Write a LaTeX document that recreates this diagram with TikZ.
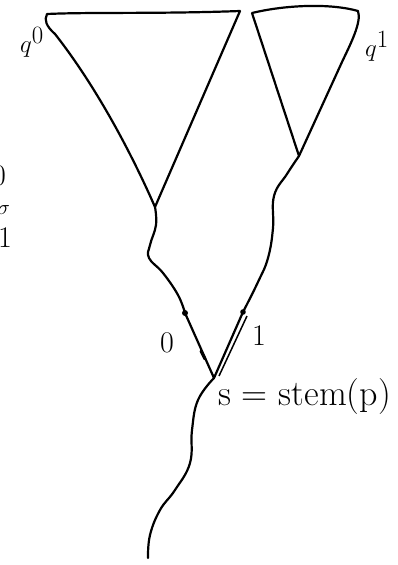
\documentclass[tikz,border=0pt]{standalone}
\usetikzlibrary{positioning}
\tikzset{stroke/.style={line width=2.2pt, line cap=round, line join=round},
  lbl/.style={inner sep=0pt, font=\fontsize{30}{34}\selectfont}}
\begin{document}
\begin{tikzpicture}[x=1pt, y=-1pt]
  \useasboundingbox (0,0) rectangle (397,565);
  % the two cones
  \coordinate (tlA) at (47,14);  \coordinate (trA) at (240,11);  \coordinate (apexA) at (155,207);
  \coordinate (tlB) at (252,13); \coordinate (trB) at (358,11);  \coordinate (apexB) at (299,156);
  \coordinate (fork) at (214,378); \coordinate (dotA) at (185,313); \coordinate (dotB) at (243,312);
  \coordinate (root) at (148,558);
  \draw[stroke] (trA) .. controls (160,14) and (90,12) .. (tlA) .. controls (44,20) and (46,26) .. (55,34)
    .. controls (95,85) and (130,150) .. (apexA) -- (trA);
  \draw[stroke] (tlB) .. controls (285,5) and (330,3) .. (trB) .. controls (362,22) and (350,45) .. (342,62)
    -- (apexB) -- (tlB);
  % stems
  \draw[stroke] plot[smooth, tension=0.7] coordinates {(apexA) (156,225) (150,245) (149,258) (163,273) (178,295) (dotA)};
  \draw[stroke] plot[smooth, tension=0.7] coordinates {(apexB) (287,174) (274,196) (273,228) (268,258) (258,282) (dotB)};
  \draw[stroke] (dotA) -- (fork);
  \draw[stroke] (dotB) -- (fork);
  \draw[line width=1.5pt] (247,316) -- (219,376);
  \draw[stroke] plot[smooth, tension=0.7] coordinates {(fork) (198,400) (192,430) (190,463) (175,490) (160,510) (150,535) (root)};
  \fill (dotA) circle (3pt);  \fill (dotB) circle (2.8pt);
  \draw[line width=3pt, line cap=round] (201,351) -- (205,359);
  % labels
  \node[lbl, anchor=south east, font=\fontsize{36}{40}\selectfont] (q0) at (44,58) {$q^0$};
  \node[lbl, anchor=south west, font=\fontsize{36}{40}\selectfont] (q1) at (365,62) {$q^1$};
  \node[lbl] (zero) at (167,343) {0};
  \node[lbl] (one) at (259,336) {1};
  \node[lbl, anchor=west, font=\fontsize{36}{40}\selectfont] (stem) at (218,397) {s = stem(p)};
  \node[lbl, anchor=east] (cutA) at (6,176) {0};
  \node[lbl, anchor=east, font=\fontsize{20}{24}\selectfont] (cutB) at (10,210) {$\sigma$};
  \node[lbl, anchor=east] (cutC) at (12,238) {1};
\end{tikzpicture}
\end{document}
